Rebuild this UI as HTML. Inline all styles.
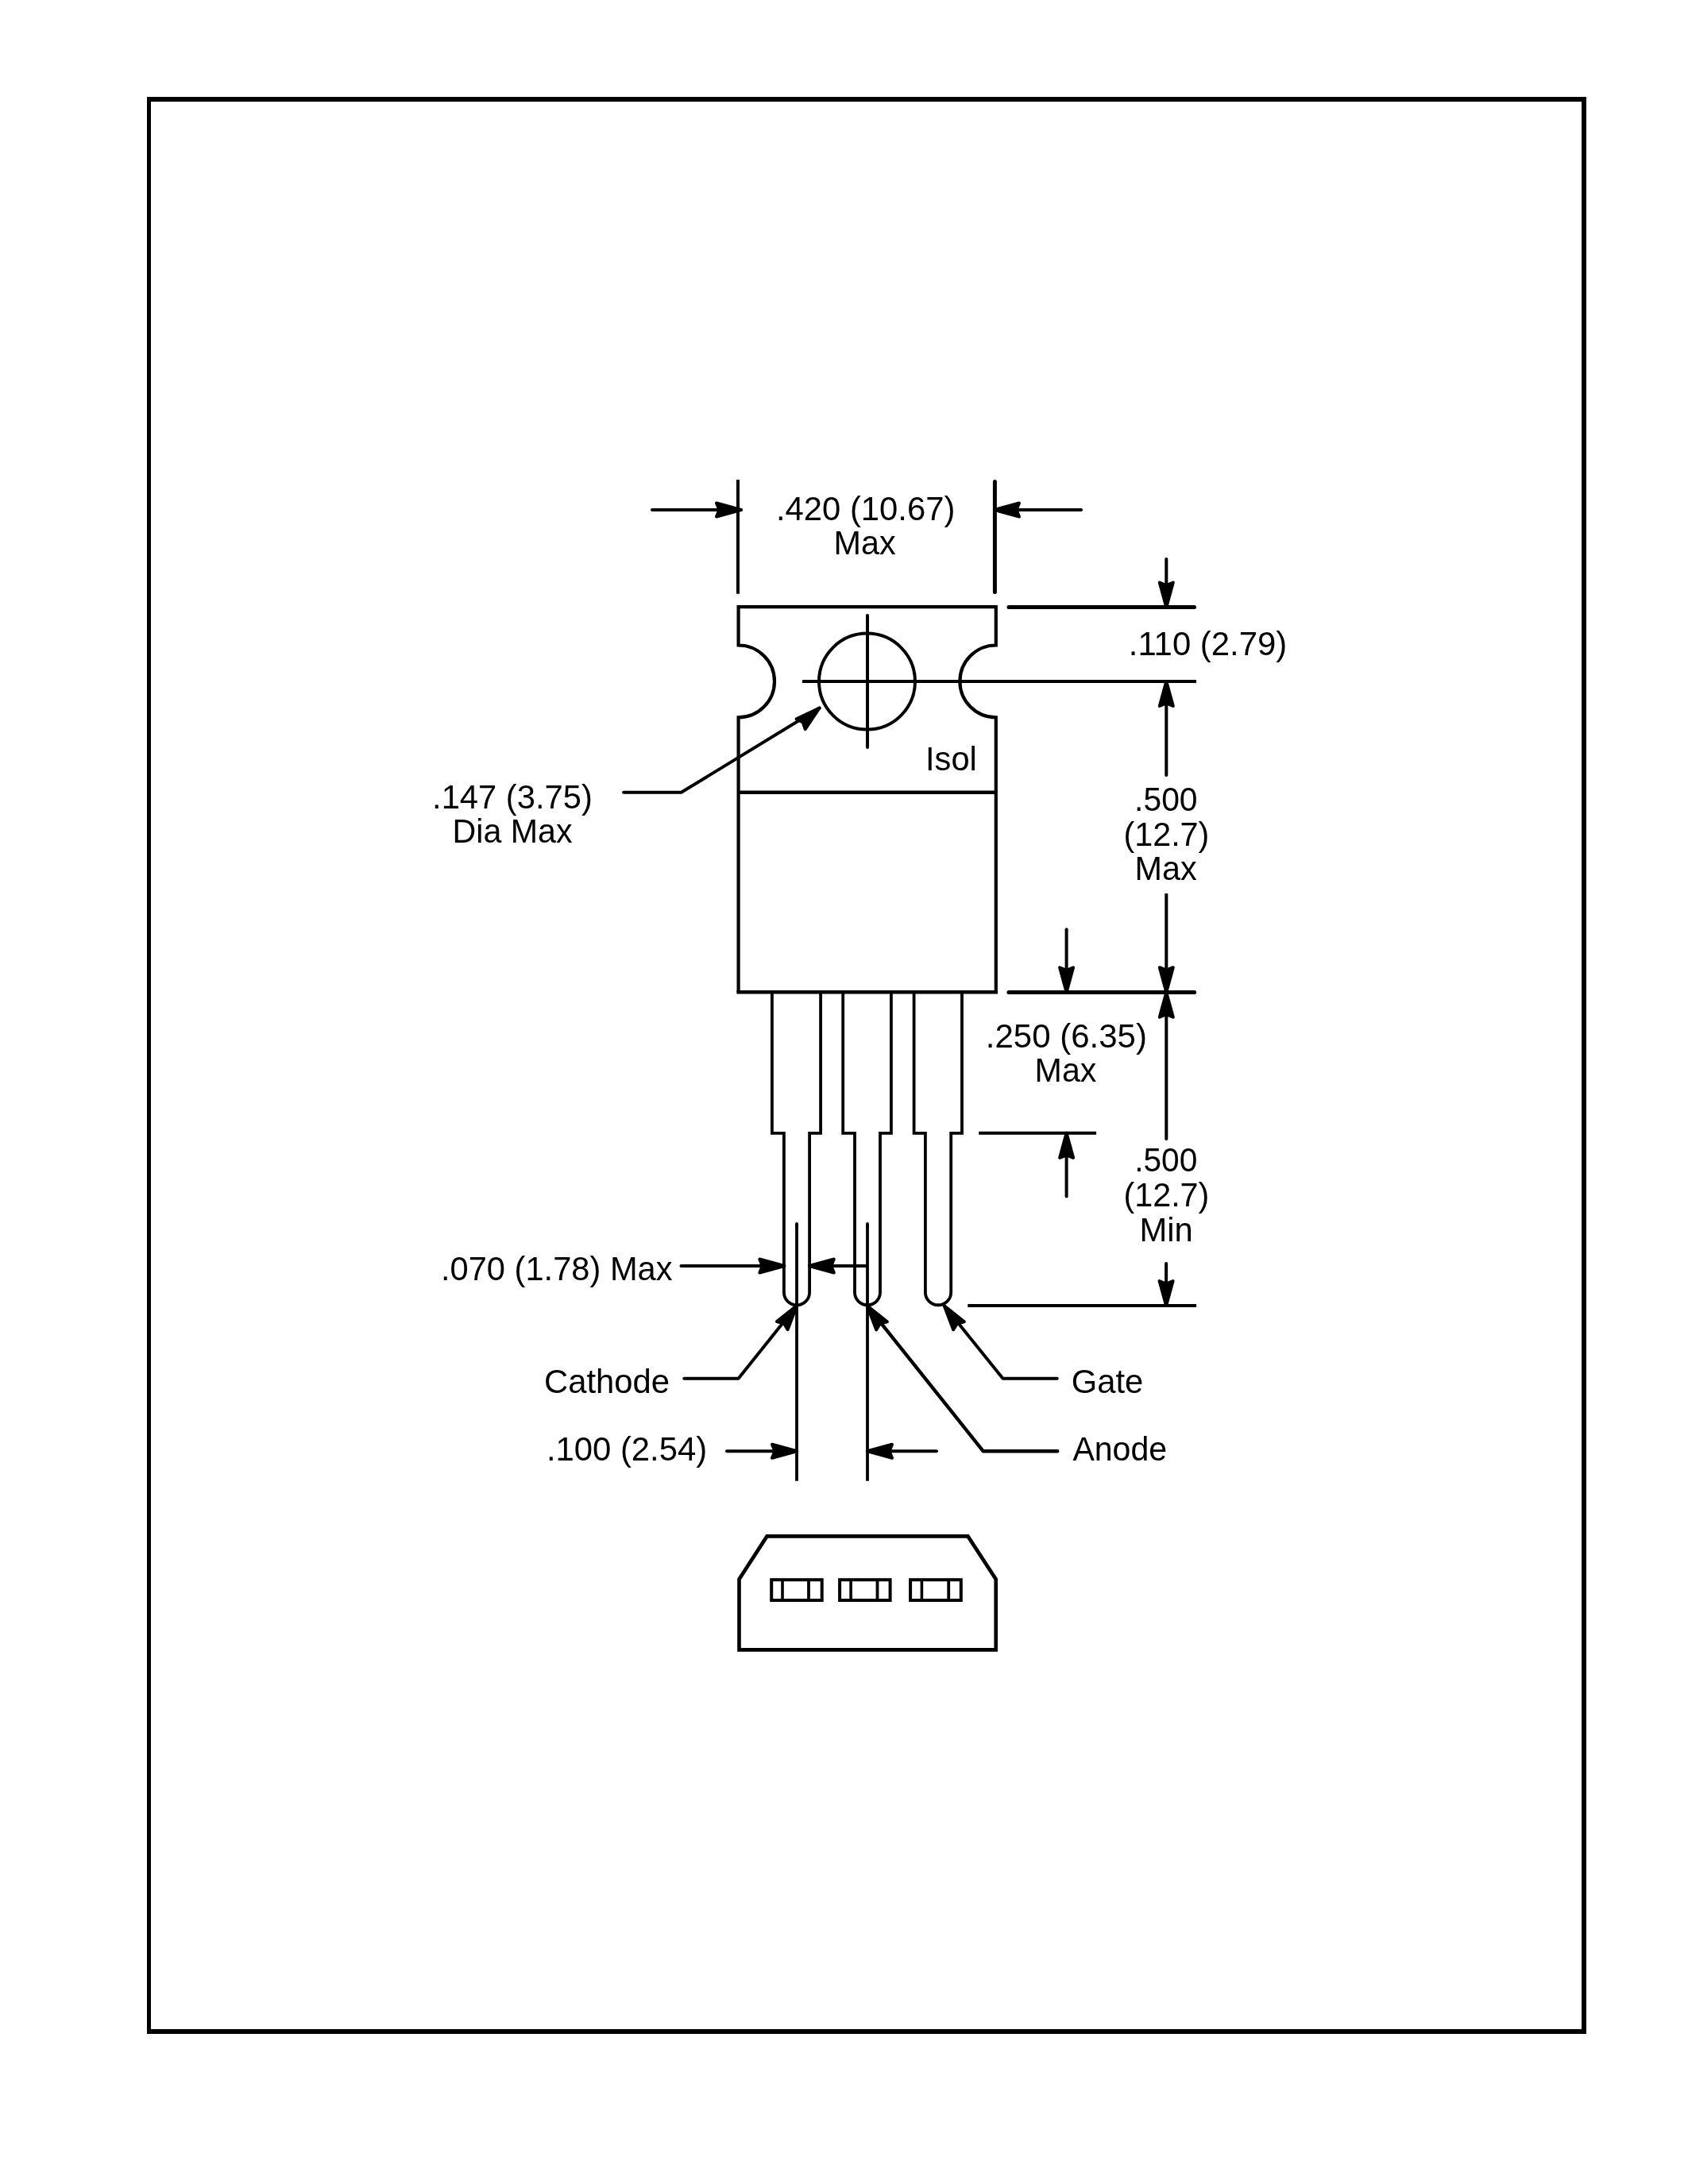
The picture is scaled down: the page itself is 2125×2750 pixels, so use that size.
<!DOCTYPE html>
<html lang="en">
<head>
<meta charset="utf-8">
<title>Package outline drawing</title>
<style>
html,body{margin:0;padding:0;background:#fff;}
body{width:2125px;height:2750px;overflow:hidden;}
svg{display:block;will-change:transform;}
svg text{font-family:"Liberation Sans",sans-serif;fill:#000;stroke:none;}
</style>
</head>
<body>
<svg width="2125" height="2750" viewBox="0 0 2125 2750" stroke="#000" fill="none">
<path d="M185 122H1997V2561H185Z M190 128V2555H1991V128Z" fill="#000" fill-rule="evenodd" stroke="none"/>
<line x1="929" y1="604" x2="929" y2="747.7" stroke-width="4" stroke-linecap="butt"/>
<line x1="1252.4" y1="606.5" x2="1252.4" y2="745.5" stroke-width="5" stroke-linecap="round"/>
<line x1="821" y1="642" x2="933" y2="642" stroke-width="4" stroke-linecap="round"/>
<polygon points="933.00,642.00 902.00,633.50 905.50,642.00 902.00,650.50" fill="#000" stroke="#000" stroke-width="4" stroke-linejoin="round"/>
<line x1="1252" y1="642" x2="1361" y2="642" stroke-width="4" stroke-linecap="round"/>
<polygon points="1252.00,642.00 1283.00,650.50 1279.50,642.00 1283.00,633.50" fill="#000" stroke="#000" stroke-width="4" stroke-linejoin="round"/>
<path d="M929.6 1249.3 V903.3 A45.4 45.4 0 0 0 929.6 812.5 V764.1 H1253.8 V812.5 A45.4 45.4 0 0 0 1253.8 903.3 V1249.3" stroke-width="4.2" stroke-linecap="butt" stroke-linejoin="miter" fill="none"/>
<line x1="927.4" y1="1249.3" x2="1256.0" y2="1249.3" stroke-width="4.6" stroke-linecap="butt"/>
<line x1="929.6" y1="997.8" x2="1253.8" y2="997.8" stroke-width="4.4" stroke-linecap="butt"/>
<circle cx="1091.5" cy="858.1" r="60.5" fill="none" stroke-width="4"/>
<line x1="1092" y1="775" x2="1092" y2="941" stroke-width="4" stroke-linecap="round"/>
<line x1="1010" y1="858" x2="1506" y2="858" stroke-width="3.8" stroke-linecap="butt"/>
<line x1="1270" y1="764.5" x2="1503.5" y2="764.5" stroke-width="5" stroke-linecap="round"/>
<line x1="1468.3" y1="704" x2="1468.3" y2="764" stroke-width="4" stroke-linecap="round"/>
<polygon points="1468.30,764.50 1476.80,733.50 1468.30,737.00 1459.80,733.50" fill="#000" stroke="#000" stroke-width="4" stroke-linejoin="round"/>
<line x1="1468.3" y1="858" x2="1468.3" y2="976" stroke-width="4" stroke-linecap="round"/>
<polygon points="1468.30,858.00 1459.80,889.00 1468.30,885.50 1476.80,889.00" fill="#000" stroke="#000" stroke-width="4" stroke-linejoin="round"/>
<line x1="1468.3" y1="1125" x2="1468.3" y2="1249" stroke-width="4" stroke-linecap="butt"/>
<polygon points="1468.30,1249.20 1476.80,1218.20 1468.30,1221.70 1459.80,1218.20" fill="#000" stroke="#000" stroke-width="4" stroke-linejoin="round"/>
<line x1="1269.9" y1="1249.5" x2="1503.6" y2="1249.5" stroke-width="5" stroke-linecap="round"/>
<line x1="1468.3" y1="1249.3" x2="1468.3" y2="1434" stroke-width="4" stroke-linecap="round"/>
<polygon points="1468.30,1249.70 1459.80,1280.70 1468.30,1277.20 1476.80,1280.70" fill="#000" stroke="#000" stroke-width="4" stroke-linejoin="round"/>
<line x1="1468.1" y1="1591" x2="1468.1" y2="1644" stroke-width="4" stroke-linecap="round"/>
<polygon points="1468.10,1644.00 1476.60,1613.00 1468.10,1616.50 1459.60,1613.00" fill="#000" stroke="#000" stroke-width="4" stroke-linejoin="round"/>
<line x1="1218.3" y1="1644" x2="1506.1" y2="1644" stroke-width="3.8" stroke-linecap="butt"/>
<line x1="1342.6" y1="1170.2" x2="1342.6" y2="1249" stroke-width="4" stroke-linecap="round"/>
<polygon points="1342.60,1249.30 1351.10,1218.30 1342.60,1221.80 1334.10,1218.30" fill="#000" stroke="#000" stroke-width="4" stroke-linejoin="round"/>
<line x1="1232.2" y1="1426.8" x2="1380.1" y2="1426.8" stroke-width="4.1" stroke-linecap="butt"/>
<line x1="1342.6" y1="1426.8" x2="1342.6" y2="1506.5" stroke-width="4" stroke-linecap="round"/>
<polygon points="1342.60,1426.80 1334.10,1457.80 1342.60,1454.30 1351.10,1457.80" fill="#000" stroke="#000" stroke-width="4" stroke-linejoin="round"/>
<path d="M971.9 1249.3 V1426.9 H986.9 V1627.20 A16.10 16.10 0 0 0 1019.1 1627.20 V1426.9 H1033.1 V1249.3" stroke-width="3.8" stroke-linecap="butt" stroke-linejoin="miter" fill="none"/>
<path d="M1061.2 1249.3 V1426.9 H1076 V1627.30 A16.00 16.00 0 0 0 1108 1627.30 V1426.9 H1121.9 V1249.3" stroke-width="3.8" stroke-linecap="butt" stroke-linejoin="miter" fill="none"/>
<path d="M1150.6 1249.3 V1426.9 H1164.9 V1627.15 A16.15 16.15 0 0 0 1197.2 1627.15 V1426.9 H1211 V1249.3" stroke-width="3.8" stroke-linecap="butt" stroke-linejoin="miter" fill="none"/>
<line x1="1003" y1="1541" x2="1003" y2="1864.7" stroke-width="3.8" stroke-linecap="butt"/>
<line x1="1003" y1="1541" x2="1003" y2="1545" stroke-width="3.8" stroke-linecap="round"/>
<line x1="1092" y1="1541" x2="1092" y2="1864.7" stroke-width="3.8" stroke-linecap="butt"/>
<line x1="1092" y1="1541" x2="1092" y2="1545" stroke-width="3.8" stroke-linecap="round"/>
<line x1="857.5" y1="1594" x2="987.3" y2="1594" stroke-width="4" stroke-linecap="round"/>
<polygon points="987.30,1594.00 956.30,1585.50 959.80,1594.00 956.30,1602.50" fill="#000" stroke="#000" stroke-width="4" stroke-linejoin="round"/>
<line x1="1018.8" y1="1594" x2="1091" y2="1594" stroke-width="4" stroke-linecap="butt"/>
<polygon points="1018.80,1594.00 1049.80,1602.50 1046.30,1594.00 1049.80,1585.50" fill="#000" stroke="#000" stroke-width="4" stroke-linejoin="round"/>
<path d="M861.3 1735.8 L929.6 1735.8 L1003 1644" stroke-width="4" stroke-linecap="round" stroke-linejoin="round" fill="none"/>
<polygon points="1003.00,1644.00 977.90,1664.08 986.84,1666.25 991.66,1674.08" fill="#000" stroke="#000" stroke-width="4" stroke-linejoin="round"/>
<path d="M1330.8 1735.8 L1262.5 1735.8 L1188.8 1644.2" stroke-width="4" stroke-linecap="round" stroke-linejoin="round" fill="none"/>
<polygon points="1188.80,1644.20 1200.14,1674.28 1204.96,1666.45 1213.90,1664.28" fill="#000" stroke="#000" stroke-width="4" stroke-linejoin="round"/>
<path d="M1331.3 1827.3 L1237.8 1827.3 L1091.8 1644.3" stroke-width="4.4" stroke-linecap="round" stroke-linejoin="round" fill="none"/>
<polygon points="1091.80,1644.30 1103.14,1674.38 1107.96,1666.55 1116.90,1664.38" fill="#000" stroke="#000" stroke-width="4" stroke-linejoin="round"/>
<line x1="915" y1="1827.3" x2="1003" y2="1827.3" stroke-width="4" stroke-linecap="round"/>
<polygon points="1003.00,1827.30 972.00,1818.80 975.50,1827.30 972.00,1835.80" fill="#000" stroke="#000" stroke-width="4" stroke-linejoin="round"/>
<line x1="1092" y1="1827.3" x2="1179" y2="1827.3" stroke-width="4" stroke-linecap="round"/>
<polygon points="1092.00,1827.30 1123.00,1835.80 1119.50,1827.30 1123.00,1818.80" fill="#000" stroke="#000" stroke-width="4" stroke-linejoin="round"/>
<path d="M785.1 997.8 L857.6 997.8 L1031.6 891.5" stroke-width="4" stroke-linecap="round" stroke-linejoin="round" fill="none"/>
<polygon points="1031.60,891.50 1002.58,905.32 1010.78,909.47 1013.69,918.19" fill="#000" stroke="#000" stroke-width="4" stroke-linejoin="round"/>
<path d="M965.5 1934.4 H1218.5 L1253.7 1988.5 V2077.4 H930.5 V1988.5 Z" stroke-width="4.6" stroke-linecap="butt" stroke-linejoin="miter" fill="none"/>
<rect x="971.2" y="1989.2" width="63.5" height="25.8" fill="none" stroke-width="4"/>
<line x1="985" y1="1989.2" x2="985" y2="2015" stroke-width="3.6" stroke-linecap="butt"/>
<line x1="1018" y1="1989.2" x2="1018" y2="2015" stroke-width="3.8" stroke-linecap="butt"/>
<rect x="1057.1" y="1989.2" width="63.5" height="25.8" fill="none" stroke-width="4"/>
<line x1="1071.1" y1="1989.2" x2="1071.1" y2="2015" stroke-width="3.6" stroke-linecap="butt"/>
<line x1="1104.5" y1="1989.2" x2="1104.5" y2="2015" stroke-width="3.8" stroke-linecap="butt"/>
<rect x="1146.1" y="1989.2" width="63.7" height="25.8" fill="none" stroke-width="4"/>
<line x1="1160.4" y1="1989.2" x2="1160.4" y2="2015" stroke-width="3.6" stroke-linecap="butt"/>
<line x1="1194.2" y1="1989.2" x2="1194.2" y2="2015" stroke-width="3.8" stroke-linecap="butt"/>
<text x="976.93" y="655" font-size="42" textLength="225.39" lengthAdjust="spacingAndGlyphs">.420 (10.67)</text>
<text x="1049.59" y="697.9" font-size="42" textLength="78.09" lengthAdjust="spacingAndGlyphs">Max</text>
<text x="1165.05" y="970" font-size="42" textLength="64.81" lengthAdjust="spacingAndGlyphs">Isol</text>
<text x="1420.83" y="825" font-size="42" textLength="199.28" lengthAdjust="spacingAndGlyphs">.110 (2.79)</text>
<text x="1428.12" y="1020.8" font-size="42" textLength="79.46" lengthAdjust="spacingAndGlyphs">.500</text>
<text x="1414.42" y="1064.7" font-size="42" textLength="107.96" lengthAdjust="spacingAndGlyphs">(12.7)</text>
<text x="1428.49" y="1107.9" font-size="42" textLength="78.20" lengthAdjust="spacingAndGlyphs">Max</text>
<text x="1240.82" y="1318.8" font-size="42" textLength="203.08" lengthAdjust="spacingAndGlyphs">.250 (6.35)</text>
<text x="1302.60" y="1362" font-size="42" textLength="77.78" lengthAdjust="spacingAndGlyphs">Max</text>
<text x="1428.14" y="1474.9" font-size="42" textLength="79.14" lengthAdjust="spacingAndGlyphs">.500</text>
<text x="1414.42" y="1518.9" font-size="42" textLength="107.96" lengthAdjust="spacingAndGlyphs">(12.7)</text>
<text x="1434.55" y="1562.9" font-size="42" textLength="67.32" lengthAdjust="spacingAndGlyphs">Min</text>
<text x="544.04" y="1017.7" font-size="42" textLength="201.84" lengthAdjust="spacingAndGlyphs">.147 (3.75)</text>
<text x="569.50" y="1060.6" font-size="42" textLength="151.01" lengthAdjust="spacingAndGlyphs">Dia Max</text>
<text x="554.95" y="1611.6" font-size="42" textLength="291.62" lengthAdjust="spacingAndGlyphs">.070 (1.78) Max</text>
<text x="685.01" y="1754" font-size="42" textLength="158.00" lengthAdjust="spacingAndGlyphs">Cathode</text>
<text x="1348.81" y="1754" font-size="42" textLength="90.48" lengthAdjust="spacingAndGlyphs">Gate</text>
<text x="1350.40" y="1839.4" font-size="42" textLength="118.72" lengthAdjust="spacingAndGlyphs">Anode</text>
<text x="687.93" y="1839.4" font-size="42" textLength="202.25" lengthAdjust="spacingAndGlyphs">.100 (2.54)</text>
</svg>
</body>
</html>
